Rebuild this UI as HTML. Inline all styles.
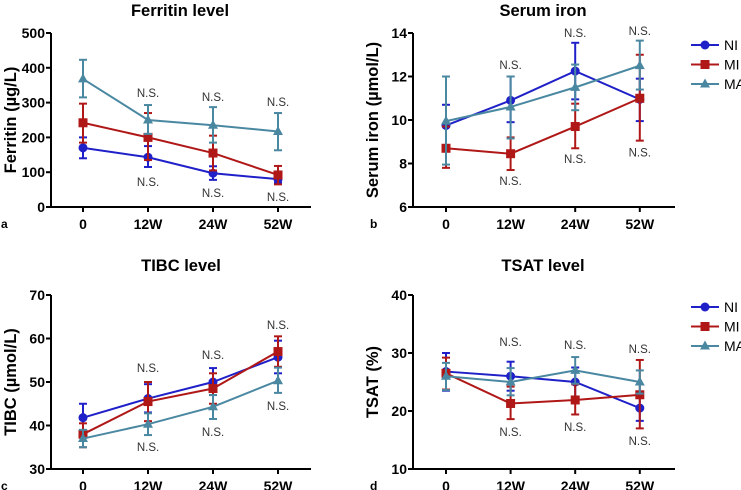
<!DOCTYPE html>
<html><head><meta charset="utf-8"><style>
html,body{margin:0;padding:0;background:#fff;overflow:hidden;}
svg{display:block;font-family:"Liberation Sans",Arial,sans-serif;}
</style></head><body>
<svg id="fig" width="741" height="490" viewBox="0 0 741 490"></svg>
<script>
const categories = ["0","12W","24W","52W"];
const seriesNames = ["NI","MI","MA"];
// Panel a: Ferritin
const aNI = [170,143,97,80];   const aNIlo=[140,115,78,70];  const aNIhi=[200,175,117,90];
const aMI = [242,200,155,92];  const aMIlo=[185,135,105,65]; const aMIhi=[297,270,205,118];
const aMA = [368,250,235,217]; const aMAlo=[315,210,185,163];const aMAhi=[423,293,287,270];
const aNSabove=[null,328,316,302]; const aNSbelow=[null,72,40,29];
const aTicks=[0,100,200,300,400,500];
// Panel b: Serum iron
const bNI=[9.75,10.9,12.25,10.95]; const bNIlo=[8.8,9.9,10.95,9.95]; const bNIhi=[10.7,12.0,13.55,11.9];
const bMI=[8.7,8.45,9.7,11.0];    const bMIlo=[7.8,7.7,8.7,9.05];   const bMIhi=[9.7,9.2,10.75,13.0];
const bMA=[9.95,10.6,11.5,12.5];  const bMAlo=[7.95,9.15,10.45,11.4];const bMAhi=[12.0,12.0,12.55,13.65];
const bNSabove=[null,12.53,14.0,14.1]; const bNSbelow=[null,7.2,8.2,8.5];
const bTicks=[6,8,10,12,14];
// Panel c: TIBC
const cNI=[41.8,46.2,50,55.7]; const cNIlo=[38.7,43,47,52];   const cNIhi=[45,49.5,53.2,59.5];
const cMI=[38,45.5,48.5,57];   const cMIlo=[35,41,45,53.5];   const cMIhi=[40.5,50,52,60.5];
const cMA=[37,40.3,44.3,50.3]; const cMAlo=[35,37.8,41.5,47.5];const cMAhi=[39,42.8,47,53.3];
const cNSabove=[null,53.2,56.2,63.1]; const cNSbelow=[null,35.1,38.5,44.5];
const cTicks=[30,40,50,60,70];
// Panel d: TSAT
const dNI=[26.8,26,25,20.5]; const dNIlo=[23.5,23.5,22.5,18.3]; const dNIhi=[30,28.5,27.5,22.7];
const dMI=[26.5,21.3,21.9,22.8]; const dMIlo=[23.7,18.6,19.4,17]; const dMIhi=[29.2,24.2,24.6,28.8];
const dMA=[26,25,27,25]; const dMAlo=[23.6,22.7,24.7,23]; const dMAhi=[28.3,27.4,29.3,27];
const dNSabove=[null,31.9,31.4,30.7]; const dNSbelow=[null,16.4,17.2,14.8];
const dTicks=[10,20,30,40];

const colors={NI:"#2020c8",MI:"#b01818",MA:"#4a88a2"};
const NS="http://www.w3.org/2000/svg";
const svg=document.getElementById('fig');
function mk(tag,attrs,parent,text){const e=document.createElementNS(NS,tag);for(const k in attrs)e.setAttribute(k,attrs[k]);if(text!==undefined)e.textContent=text;(parent||svg).appendChild(e);return e;}

function panel(o){
  const g=mk('g',{});
  
  
  const ymin=o.ticks[0], ymax=o.ticks[o.ticks.length-1];
  const y=v=>o.y0-(v-ymin)/(ymax-ymin)*(o.y0-o.y1);
  const x=i=>o.xc[0]+i*(o.xc[1]-o.xc[0]);
  const t=mk('text',{x:o.tx,y:o.ty,'text-anchor':'middle','font-size':'16.5','font-weight':'bold',fill:'#000'},g,o.title);
  
  const yt=mk('text',{x:0,y:0,transform:`translate(${o.ax-35},${(o.y0+o.y1)/2}) rotate(-90)`,'text-anchor':'middle','font-size':'16.5','font-weight':'bold'},g,o.ytitle);
  
  const lt=mk('text',{x:o.lx,y:o.y0+21,'font-size':'12','font-weight':'bold'},g,o.letter);
  
  const ax=mk('path',{d:`M${o.ax},${o.y1} V${o.y0} H${o.xend}`,stroke:'#000','stroke-width':'2',fill:'none'},g);
  
  o.ticks.forEach(v=>{
    mk('line',{x1:o.ax-5,x2:o.ax,y1:y(v),y2:y(v),stroke:'#000','stroke-width':'2'},g);
    const tl=mk('text',{x:o.ax-6,y:y(v)+5,'text-anchor':'end','font-size':'14','font-weight':'bold'},g,String(v));
    
  });
  categories.forEach((c,i)=>{
    mk('line',{x1:x(i),x2:x(i),y1:o.y0,y2:o.y0+5,stroke:'#000','stroke-width':'2'},g);
    const tl=mk('text',{x:x(i),y:o.y0+22,'text-anchor':'middle','font-size':'14','font-weight':'bold'},g,c);
    
  });
  o.series.forEach((s,si)=>{
    const col=colors[seriesNames[si]];
    const sg=mk('g',{},g);
    
    
    s.v.forEach((v,i)=>{
      mk('line',{x1:x(i),x2:x(i),y1:y(s.lo[i]),y2:y(s.hi[i]),stroke:col,'stroke-width':'2'},sg);
      [s.lo[i],s.hi[i]].forEach(e=>mk('line',{x1:x(i)-4,x2:x(i)+4,y1:y(e),y2:y(e),stroke:col,'stroke-width':'2'},sg));
    });
    mk('polyline',{points:s.v.map((v,i)=>x(i)+','+y(v)).join(' '),fill:'none',stroke:col,'stroke-width':'2'},sg);
    s.v.forEach((v,i)=>marker(sg,seriesNames[si],x(i),y(v),col,4.5));
  });
  [o.nsA,o.nsB].forEach(arr=>arr.forEach((v,i)=>{
    if(v===null)return;
    const n=mk('text',{x:x(i),y:y(v)+4,'text-anchor':'middle','font-size':'11.5',fill:'#333'},g,'N.S.');
    
  }));
  if(o.legend){
    seriesNames.forEach((n,i)=>{
      const ly=o.legend.y+i*19.5, col=colors[n];
      const lg=mk('g',{},g);
      
      
      mk('line',{x1:o.legend.x,x2:o.legend.x+28,y1:ly,y2:ly,stroke:col,'stroke-width':'2'},lg);
      marker(lg,n,o.legend.x+14,ly,col,4.5);
      mk('text',{x:o.legend.x+33,y:ly+5,'font-size':'14',fill:'#000'},lg,n);
    });
  }
}
function marker(p,n,cx,cy,col,r){
  if(n==='NI')mk('circle',{cx:cx,cy:cy,r:r,fill:col},p);
  else if(n==='MI')mk('rect',{x:cx-r,y:cy-r,width:2*r,height:2*r,fill:col},p);
  else mk('polygon',{points:`${cx},${cy-r-1} ${cx-r-0.5},${cy+r-1} ${cx+r+0.5},${cy+r-1}`,fill:col},p);
}
const xcL=[83,148], xcR=[446,510.6];
panel({name:'panel-a-ferritin',title:'Ferritin level',tx:180,ty:16,ytitle:'Ferritin (µg/L)',letter:'a',lx:1,ax:51,xend:311,y0:207,y1:33,xc:xcL,ticks:aTicks,
  series:[{v:aNI,lo:aNIlo,hi:aNIhi},{v:aMI,lo:aMIlo,hi:aMIhi},{v:aMA,lo:aMAlo,hi:aMAhi}],nsA:aNSabove,nsB:aNSbelow});
panel({name:'panel-b-serum-iron',title:'Serum iron',tx:543,ty:16,ytitle:'Serum iron (µmol/L)',letter:'b',lx:370,ax:413,xend:675,y0:207,y1:33,xc:xcR,ticks:bTicks,
  series:[{v:bNI,lo:bNIlo,hi:bNIhi},{v:bMI,lo:bMIlo,hi:bMIhi},{v:bMA,lo:bMAlo,hi:bMAhi}],nsA:bNSabove,nsB:bNSbelow,legend:{x:691,y:45}});
panel({name:'panel-c-tibc',title:'TIBC level',tx:181,ty:271,ytitle:'TIBC (µmol/L)',letter:'c',lx:1,ax:51,xend:311,y0:469,y1:295,xc:xcL,ticks:cTicks,
  series:[{v:cNI,lo:cNIlo,hi:cNIhi},{v:cMI,lo:cMIlo,hi:cMIhi},{v:cMA,lo:cMAlo,hi:cMAhi}],nsA:cNSabove,nsB:cNSbelow});
panel({name:'panel-d-tsat',title:'TSAT level',tx:543,ty:271,ytitle:'TSAT (%)',letter:'d',lx:370,ax:413,xend:675,y0:469,y1:295,xc:xcR,ticks:dTicks,
  series:[{v:dNI,lo:dNIlo,hi:dNIhi},{v:dMI,lo:dMIlo,hi:dMIhi},{v:dMA,lo:dMAlo,hi:dMAhi}],nsA:dNSabove,nsB:dNSbelow,legend:{x:691,y:307}});
</script>
</body></html>
